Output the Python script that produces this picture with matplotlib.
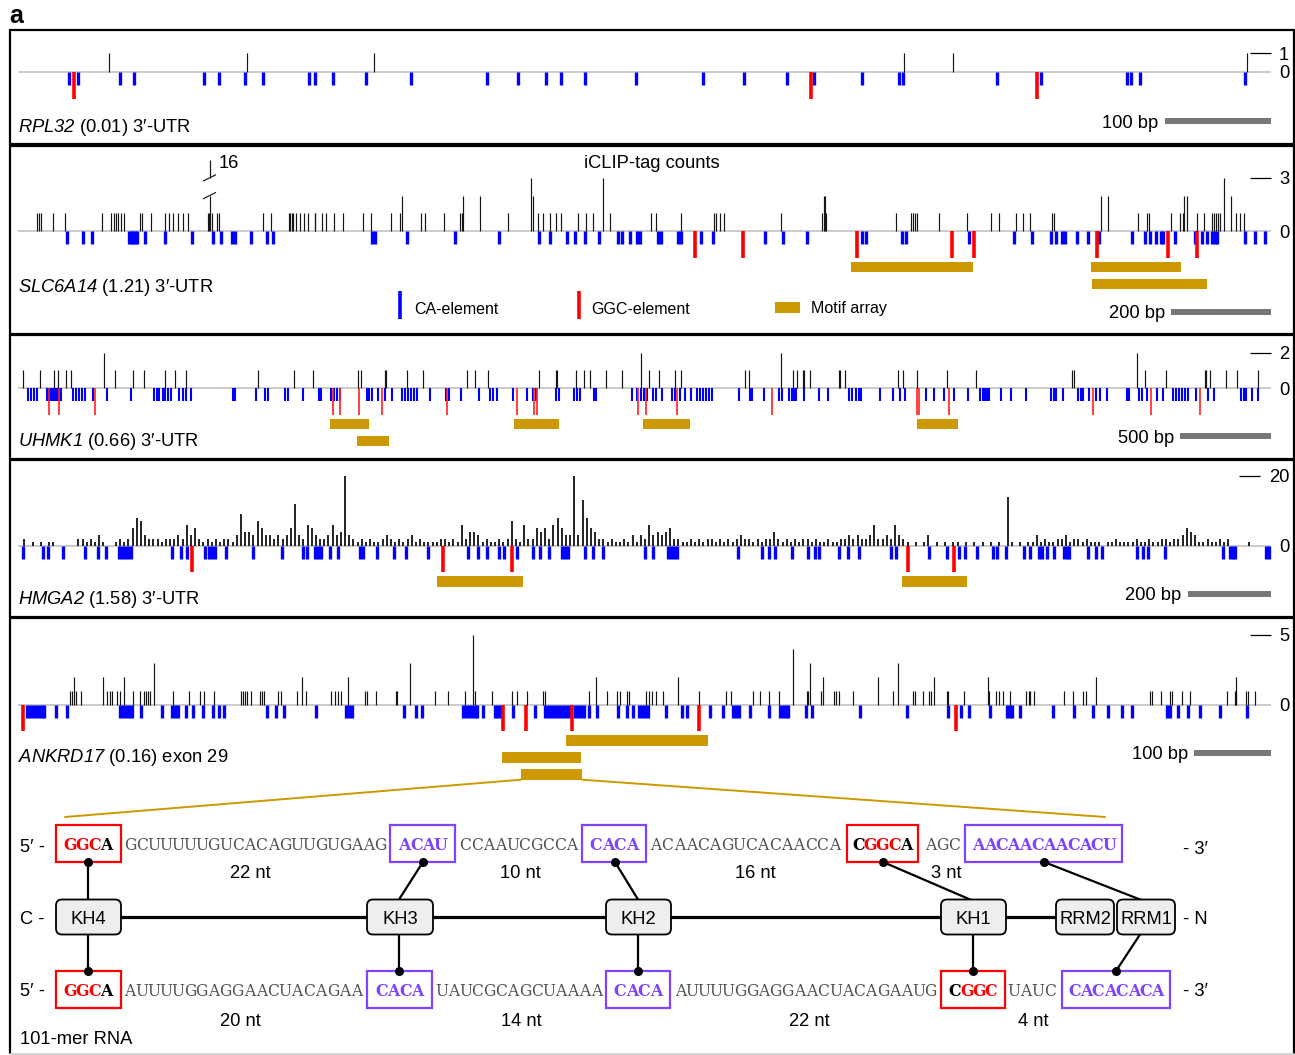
import numpy as np
import matplotlib
matplotlib.use('Agg')
import matplotlib.pyplot as plt
from matplotlib.patches import Rectangle, FancyBboxPatch, ConnectionPatch

plt.rcParams['font.family'] = ['Liberation Sans', 'DejaVu Sans']
plt.rcParams['mathtext.fontset'] = 'custom'
plt.rcParams['mathtext.rm'] = 'Liberation Sans:italic'
plt.rcParams['mathtext.it'] = 'Liberation Sans:italic'

# ---------------------------------------------------------------- data
# RPL32 3'-UTR (positions in nt)
rpl32_t1 = [86, 215, 335, 833, 879, 1155]
rpl32_ca = [48, 56, 96, 109, 175, 189, 213, 230, 274, 279, 296, 327, 369, 441, 470,
            496, 510, 533, 581, 644, 682, 723, 748, 793, 828, 832, 920, 962, 1042,
            1046, 1055, 1153]
rpl32_ggc = [53, 745, 958]
rpl32_motifs = []

# SLC6A14 3'-UTR
slc_t1 = [37, 41, 46, 70, 94, 168, 186, 191, 196, 200, 205, 211, 244, 247, 265, 293, 302,
          310, 319, 329, 340, 379, 381, 387, 398, 401, 490, 505, 542, 544, 547, 550, 555,
          563, 572, 579, 593, 594, 607, 616, 631, 650, 689, 706, 746, 763, 806, 813, 851,
          884, 887, 979, 1040, 1050, 1063, 1075, 1086, 1119, 1135, 1150, 1183, 1265, 1276,
          1326, 1391, 1395, 1403, 1412, 1525, 1608, 1616, 1755, 1785, 1789, 1793, 1797,
          1841, 1897, 1945, 1961, 1996, 2010, 2023, 2068, 2072, 2240, 2257, 2261, 2305,
          2324, 2329, 2357, 2371, 2388, 2391, 2395, 2399, 2403, 2436, 2444, 2452]
slc_t2 = [767, 889, 923, 1029, 1611, 1614, 2166, 2180, 2332, 2338, 2426]
slc_t3 = [1025, 1169, 2412]
slc_break_pos = 383
slc_break_count = 16
slc_ca = [97, 129, 147, 222, 226, 230, 234, 238, 254, 294, 348, 389, 405, 428, 434, 466,
          497, 510, 708, 714, 778, 873, 961, 1042, 1063, 1097, 1114, 1133, 1161, 1199,
          1208, 1223, 1238, 1244, 1279, 1286, 1320, 1326, 1366, 1389, 1493, 1530, 1577,
          1688, 1696, 1768, 1776, 1902, 1991, 2027, 2065, 2075, 2088, 2094, 2118, 2140,
          2161, 2227, 2253, 2263, 2276, 2285, 2289, 2314, 2353, 2368, 2378, 2388, 2394,
          2398, 2454, 2474, 2494]
slc_ggc = [1354, 1449, 1677, 1868, 1912, 2158, 2300, 2357]
slc_motifs = [(1666, 1910, 0), (2146, 2326, 0), (2148, 2378, 1)]

# UHMK1 3'-UTR
uhmk_t1 = [26, 122, 197, 220, 266, 293, 535, 635, 695, 806, 866, 925, 1319, 1520, 1622,
           1869, 1885, 2021, 2026, 2140, 2225, 2468, 2515, 2587, 2868, 2958, 2963, 3068,
           3114, 3148, 3232, 3324, 3469, 3524, 3613, 3647, 3998, 4018, 4263, 4283, 4316,
           4322, 4356, 4515, 4520, 4547, 4842, 4867, 4942, 5108, 5271, 5797, 5808, 6200,
           6312, 6529, 6534, 6554, 6645, 6705, 6821]
uhmk_t2 = [471, 3424, 4196, 6153]
uhmk_ca = [56, 72, 88, 102, 160, 171, 182, 193, 204, 215, 226, 237, 300, 318, 334, 350,
           366, 414, 492, 619, 749, 763, 774, 798, 809, 825, 843, 888, 906, 925, 954, 1183,
           1192, 1308, 1359, 1375, 1470, 1483, 1568, 1654, 1666, 1722, 1738, 1755, 1771,
           1917, 1933, 1949, 1981, 2017, 2058, 2112, 2129, 2145, 2162, 2178, 2195, 2268,
           2354, 2371, 2439, 2535, 2596, 2612, 2637, 2724, 2802, 2833, 2849, 2957, 2977,
           3057, 3073, 3093, 3168, 3179, 3379, 3406, 3427, 3443, 3460, 3490, 3510, 3544,
           3597, 3614, 3640, 3670, 3702, 3733, 3752, 3768, 3784, 3801, 3817, 3968, 4026,
           4037, 4103, 4185, 4201, 4241, 4257, 4268, 4279, 4322, 4404, 4454, 4571, 4589,
           4609, 4626, 4637, 4741, 4812, 4853, 4879, 4992, 5040, 5092, 5150, 5227, 5289,
           5305, 5316, 5327, 5341, 5405, 5464, 5546, 5682, 5698, 5709, 5748, 5830, 5847,
           5858, 5893, 5927, 5950, 5989, 6098, 6112, 6166, 6182, 6211, 6265, 6299, 6353,
           6369, 6386, 6402, 6419, 6435, 6477, 6545, 6577, 6727, 6743, 6754, 6789, 6821]
uhmk_ggc = [168, 225, 426, 1732, 1771, 1876, 2001, 2360, 2747, 2838, 2856, 3408, 3454,
            3626, 4146, 4942, 4953, 5120, 5915, 6233, 6499]
uhmk_motifs = [(1714, 1930, 0), (1867, 2038, 1), (2728, 2973, 0), (3438, 3696, 0),
               (4942, 5170, 0)]

# HMGA2 3'-UTR : iCLIP tags per 10-nt bin
hmga_bin = 10
hmga_counts = [
    0, 2, 0, 1, 0, 1, 0, 1, 1, 0,   0, 0, 0, 0, 2, 2, 1, 2, 1, 3,
    1, 0, 0, 1, 2, 1, 2, 5, 8, 7,   3, 2, 2, 2, 1, 2, 2, 2, 3, 2,
    6, 3, 5, 2, 1, 2, 1, 2, 1, 2,   2, 1, 3, 9, 4, 4, 3, 7, 5, 3,
    3, 2, 3, 2, 3, 5, 12, 3, 2, 6,  5, 3, 2, 2, 3, 6, 3, 4, 20, 3,
    2, 1, 2, 1, 2, 1, 1, 2, 3, 2,   1, 2, 1, 2, 3, 1, 2, 1, 1, 1,
    1, 2, 2, 1, 2, 1, 6, 2, 4, 4,   3, 1, 2, 1, 1, 2, 1, 2, 7, 2,
    1, 6, 2, 2, 5, 4, 5, 2, 6, 8,   5, 3, 3, 20, 3, 13, 8, 5, 4, 2,
    2, 1, 2, 1, 1, 2, 1, 3, 1, 3,   2, 6, 3, 4, 3, 4, 5, 2, 2, 1,
    1, 2, 1, 2, 1, 2, 2, 1, 2, 1,   2, 1, 2, 3, 2, 2, 1, 2, 1, 2,
    2, 4, 2, 1, 2, 1, 2, 1, 2, 2,   1, 2, 1, 1, 2, 1, 1, 2, 2, 3,
    2, 3, 2, 2, 3, 6, 2, 2, 3, 2,   6, 3, 2, 1, 0, 1, 0, 1, 3, 0,
    1, 0, 1, 0, 1, 1, 0, 1, 0, 1,   0, 1, 0, 1, 0, 1, 0, 14, 1, 0,
    1, 0, 1, 1, 3, 1, 2, 1, 1, 2,   2, 3, 1, 2, 2, 1, 2, 1, 1, 1,
    0, 1, 1, 2, 1, 1, 1, 1, 2, 1,   1, 2, 1, 1, 2, 2, 1, 2, 2, 3,
    5, 4, 3, 1, 1, 2, 1, 1, 2, 1,   2, 0, 0, 0, 0, 1, 0, 0, 0, 0]
hmga_ca = [12, 61, 71, 109, 161, 191, 211, 242, 250, 257, 264, 271, 370, 390, 405, 449,
           458, 466, 473, 499, 564, 633, 683, 693, 713, 720, 727, 748, 768, 821, 828, 862,
           902, 932, 984, 1079, 1104, 1126, 1154, 1166, 1198, 1237, 1253, 1275, 1306, 1313,
           1320, 1360, 1380, 1403, 1504, 1525, 1560, 1567, 1574, 1582, 1729, 1786, 1803,
           1816, 1858, 1895, 1913, 1923, 1970, 1992, 2019, 2094, 2107, 2187, 2229, 2259,
           2273, 2301, 2339, 2349, 2372, 2415, 2428, 2450, 2458, 2470, 2487, 2510, 2518,
           2522, 2568, 2587, 2601, 2686, 2699, 2712, 2752, 2891, 2909, 2916, 2921, 2995, 3002]
hmga_ggc = [418, 1019, 1186, 2135, 2247]
hmga_motifs = [(1006, 1212, 0), (2122, 2278, 0)]

# ANKRD17 exon 29
ank_t1 = [68, 70, 75, 82, 116, 119, 122, 129, 132, 149, 158, 164, 167, 169, 171, 201, 222,
          236, 242, 255, 290, 292, 295, 298, 303, 315, 317, 320, 338, 342, 363, 374, 407,
          412, 416, 420, 451, 454, 465, 492, 493, 542, 559, 581, 594, 616, 642, 649, 662,
          683, 685, 742, 766, 779, 783, 792, 794, 816, 820, 824, 829, 839, 885, 920, 927,
          955, 965, 976, 989, 1026, 1027, 1044, 1061, 1064, 1067, 1085, 1137, 1163, 1166,
          1177, 1184, 1187, 1208, 1209, 1230, 1262, 1271, 1275, 1280, 1289, 1310, 1314,
          1316, 1321, 1360, 1371, 1385, 1388, 1472, 1474, 1486, 1498, 1500, 1513, 1523,
          1572, 1582, 1583, 1597, 1599, 1608]
ank_t2 = [73, 110, 138, 369, 429, 752, 858, 1046, 1118, 1191, 1261, 1402, 1584]
ank_t3 = [177, 510, 1029, 1144]
ank_t4 = [1008]
ank_t5 = [592]
ank_ca = [12, 16, 20, 23, 27, 31, 34, 50, 64, 133, 137, 140, 144, 148, 160, 187, 200, 204,
          208, 219, 227, 241, 253, 261, 268, 324, 336, 346, 387, 426, 430, 434, 502, 518,
          525, 579, 582, 586, 590, 594, 597, 605, 620, 623, 626, 644, 672, 685, 689, 693,
          697, 701, 705, 708, 712, 716, 724, 728, 732, 736, 742, 753, 780, 792, 799, 807,
          811, 815, 819, 843, 863, 870, 899, 917, 930, 933, 937, 951, 976, 991, 995, 998,
          1001, 1025, 1032, 1094, 1156, 1209, 1226, 1236, 1264, 1286, 1290, 1292, 1303,
          1346, 1373, 1398, 1417, 1435, 1448, 1494, 1498, 1508, 1521, 1536, 1562, 1598]
ank_ggc = [6, 631, 660, 720, 885, 1220]
ank_motifs = [(712, 897, 0), (629, 732, 1), (654, 733, 2)]

gene_names = ['RPL32', 'SLC6A14', 'UHMK1', 'HMGA2', 'ANKRD17']
gene_scores = ['0.01', '1.21', '0.66', '1.58', '0.16']
gene_regions = ["3\u2032-UTR", "3\u2032-UTR", "3\u2032-UTR", "3\u2032-UTR", "exon 29"]
scale_max = [1, 3, 2, 20, 5]
scale_bar_bp = [100, 200, 500, 200, 100]

# 101-mer RNA schematic
row1_parts = [("GGCA", "ggc"), ("GCUUUUUGUCACAGUUGUGAAG", None), ("ACAU", "ca"),
              ("CCAAUCGCCA", None), ("CACA", "ca"), ("ACAACAGUCACAACCA", None),
              ("CGGCA", "ggc"), ("AGC", None), ("AACAACAACACU", "ca")]
row2_parts = [("GGCA", "ggc"), ("AUUUUGGAGGAACUACAGAA", None), ("CACA", "ca"),
              ("UAUCGCAGCUAAAA", None), ("CACA", "ca"), ("AUUUUGGAGGAACUACAGAAUG", None),
              ("CGGC", "ggc"), ("UAUC", None), ("CACACACA", "ca")]
row1_gaps = ["22 nt", "10 nt", "16 nt", "3 nt"]
row2_gaps = ["20 nt", "14 nt", "22 nt", "4 nt"]
domains = ["KH4", "KH3", "KH2", "KH1", "RRM2", "RRM1"]

# ---------------------------------------------------------------- layout / style
W, H = 1295, 1055
BLUE = '#0000ff'
RED = '#ff0000'
GOLD = '#cc9900'
PURPLE = '#7f44ff'
DY = 2.0          # visual centring correction for sans text (px)
fig = plt.figure(figsize=(W / 100, H / 100), dpi=100)
bg = fig.add_axes([0, 0, 1, 1])
bg.set_xlim(0, W)
bg.set_ylim(H, 0)
bg.axis('off')


def btext(x, y, s, **kw):
    kw.setdefault('fontsize', FS)
    kw.setdefault('va', 'center')
    return bg.text(x, y + DY, s, **kw)


FS = 13.2
# panel geometry: top, bottom, baseline y (px), px per tag, nt per px, label y, bar y
panels = [
    dict(top=30, bottom=144, base=72, ppc=19.0, f=0.94, lab=125, bar=121),
    dict(top=145.5, bottom=333.5, base=231, ppc=17.7, f=2.0, lab=286, bar=312),
    dict(top=335, bottom=458.5, base=388.3, ppc=17.8, f=5.5, lab=440, bar=436.5),
    dict(top=460, bottom=616.5, base=545.7, ppc=3.5, f=2.4, lab=598, bar=594),
    dict(top=618, bottom=790, base=704.7, ppc=14.0, f=1.3, lab=756, bar=752.5),
]

# panel frames
frames = [(30, 144), (145.5, 333.5), (335, 458.5), (460, 616.5)]
for t, b in frames:
    bg.add_patch(Rectangle((10, t), 1284, b - t, fill=False, ec='black', lw=1.6))
bg.plot([10, 10, 1294, 1294], [1053, 618, 618, 1053], color='black', lw=1.6)
bg.plot([10, 1294], [1053.5, 1053.5], color='#cccccc', lw=1.2)
btext(9, 14, 'a', fontsize=18, fontweight='bold', ha='left')


def make_ax(p):
    ax = fig.add_axes([10 / W, 1 - p['bottom'] / H, 1284 / W, (p['bottom'] - p['top']) / H])
    f, ppc, base = p['f'], p['ppc'], p['base']
    ax.set_xlim((10 - 18) * f, (1294 - 18) * f)
    ax.set_ylim((base - p['bottom']) / ppc, (base - p['top']) / ppc)
    ax.axis('off')
    return ax


def draw_track(ax, p, tags, ca, ggc, motifs, top, bar_bp, ca_lw=2.4, ggc_lw=2.6,
               ggc_color=RED, tick=(1250, 1271), tag_lw=0.85):
    f, ppc = p['f'], p['ppc']
    X = lambda px: (px - 18) * f
    P = lambda d: d / ppc
    L = X(1271)
    ax.hlines(0, 0, L, color='#bdbdbd', lw=1.1, zorder=1)
    ax.vlines(ca, -P(13), 0, color=BLUE, lw=ca_lw, zorder=2)
    ax.vlines(ggc, -P(26.5), 0, color=ggc_color, lw=ggc_lw, zorder=2.5)
    for cnt, pos in tags:
        if len(pos):
            ax.vlines(pos, 0, cnt, color='#151515', lw=tag_lw, zorder=3)
    for s, e, row in motifs:
        t = 30.5 + 17 * row
        ax.add_patch(Rectangle((s, -P(t + 10.5)), e - s, P(10.5), color=GOLD, lw=0))
    ax.hlines(top, X(tick[0]), X(tick[1]), color='black', lw=0.9)
    ax.text(X(1289), top - P(DY), str(top), ha='right', va='center', fontsize=FS)
    ax.text(X(1289), -P(DY), '0', ha='right', va='center', fontsize=FS)
    yb = (p['base'] - p['bar']) / ppc
    ax.hlines(yb, L - bar_bp, L, color='#777777', lw=4.3)
    ax.text(L - bar_bp - 6 * f, yb - P(DY), f'{bar_bp} bp', ha='right', va='center',
            fontsize=FS)


axes = [make_ax(p) for p in panels]

draw_track(axes[0], panels[0], [(1, rpl32_t1)], rpl32_ca, rpl32_ggc, rpl32_motifs,
           scale_max[0], scale_bar_bp[0])
draw_track(axes[1], panels[1], [(1, slc_t1), (2, slc_t2), (3, slc_t3)], slc_ca, slc_ggc,
           slc_motifs, scale_max[1], scale_bar_bp[1])
draw_track(axes[2], panels[2], [(1, uhmk_t1), (2, uhmk_t2)], uhmk_ca, uhmk_ggc,
           uhmk_motifs, scale_max[2], scale_bar_bp[2], ca_lw=1.5, ggc_lw=1.2,
           ggc_color='#ff2020')
hmga_pos = np.arange(len(hmga_counts)) * hmga_bin + hmga_bin / 2
ax4 = axes[3]
draw_track(ax4, panels[3], [], hmga_ca, hmga_ggc, hmga_motifs, scale_max[3],
           scale_bar_bp[3], tick=(1239, 1260))
hc = np.array(hmga_counts)
ax4.vlines(hmga_pos[hc > 0], 0, hc[hc > 0], color='#111111', lw=1.3, zorder=3)
draw_track(axes[4], panels[4], [(1, ank_t1), (2, ank_t2), (3, ank_t3), (4, ank_t4),
                                (5, ank_t5)], ank_ca, ank_ggc, ank_motifs,
           scale_max[4], scale_bar_bp[4])

# broken 16-tag bar in SLC6A14
ax2 = axes[1]
f2, ppc2 = panels[1]['f'], panels[1]['ppc']
ax2.vlines(slc_break_pos, 0, 2.0, color='#151515', lw=0.85, zorder=3)
ax2.vlines(slc_break_pos, 3.0, 4.0, color='#151515', lw=0.85, zorder=3)
for yy in (2.0, 3.0):
    ax2.plot([slc_break_pos - 6 * f2, slc_break_pos + 6 * f2],
             [yy - 3 / ppc2, yy + 3 / ppc2], color='#151515', lw=0.85)
ax2.text(slc_break_pos + 9 * f2, 4.0 - 3.5 / ppc2, str(slc_break_count), fontsize=FS,
         ha='left', va='center')

# gene labels
for p, g, sc, rg in zip(panels, gene_names, gene_scores, gene_regions):
    btext(18, p['lab'], f'${g}$ ({sc}) {rg}', ha='left')

# legend + axis title in SLC6A14 panel
btext(652, 162, 'iCLIP-tag counts', ha='center')
bg.plot([400, 400], [291, 319], color=BLUE, lw=2.6, solid_capstyle='butt')
btext(414, 307, 'CA-element', fontsize=11.5, ha='left')
bg.plot([579, 579], [291, 319], color=RED, lw=2.6, solid_capstyle='butt')
btext(591, 307, 'GGC-element', fontsize=11.5, ha='left')
bg.add_patch(Rectangle((775, 302), 25, 10.5, color=GOLD, lw=0))
btext(811, 307, 'Motif array', fontsize=11.5, ha='left')

# zoom lines from the motif array to the schematic
ax5 = axes[4]
yb5 = -(30.5 + 17 * 2 + 10.5) / panels[4]['ppc']
for xm, xt in ((ank_motifs[2][0], 65), (ank_motifs[2][1], 1105)):
    con = ConnectionPatch(xyA=(xm, yb5), coordsA=ax5.transData, xyB=(xt, 817),
                          coordsB=bg.transData, color=GOLD, lw=1.4)
    fig.add_artist(con)

# ---------------------------------------------------------------- schematic
SERIF = 'DejaVu Serif'
SFS = 11.2
BFS = 11.4
CW = 11.93
row1_x = [(56, 121), (124, 387), (390, 455), (459, 578), (582, 646), (650, 840),
          (847, 918), (925, 960), (965, 1122)]
row2_x = [(56, 121), (124, 363), (367, 432), (436, 602), (606, 670), (674, 937),
          (941, 1005), (1009, 1055), (1062, 1170)]


def draw_row(parts, xs, yc):
    for (txt, kind), (x0, x1) in zip(parts, xs):
        xc = (x0 + x1) / 2
        n = len(txt)
        if kind is None:
            for i, ch in enumerate(txt):
                bg.text(xc + (i - (n - 1) / 2) * CW, yc + 6.0, ch, family=SERIF,
                        fontsize=SFS, color='#505050', ha='center', va='baseline')
            continue
        edge = RED if kind == 'ggc' else PURPLE
        bg.add_patch(Rectangle((x0, yc - 18.5), x1 - x0, 37, fill=False, ec=edge, lw=1.6))
        for i, ch in enumerate(txt):
            if kind == 'ca':
                col = PURPLE
            else:
                col = RED if ch == 'G' or (ch == 'C' and i > 0 and txt[i - 1] == 'G') else 'black'
            bg.text(xc + (i - (n - 1) / 2) * CW, yc + 6.0, ch, family=SERIF, fontsize=BFS,
                    fontweight='bold', color=col, ha='center', va='baseline')


draw_row(row1_parts, row1_x, 843.5)
draw_row(row2_parts, row2_x, 989.5)

for txt, xc in zip(row1_gaps, [250, 520, 755, 946]):
    btext(xc, 872, txt, ha='center')
for txt, xc in zip(row2_gaps, [240, 521, 809, 1033]):
    btext(xc, 1019, txt, ha='center')

btext(20, 845, "5\u2032 -", ha='left')
btext(20, 917, "C -", ha='left')
btext(20, 990, "5\u2032 -", ha='left')
btext(20, 1037, "101-mer RNA", ha='left')
btext(1183, 848, "- 3\u2032", ha='left')
btext(1183, 917, "- N", ha='left')
btext(1183, 990, "- 3\u2032", ha='left')

# domains
dom_x = [(56, 121), (367, 433), (606, 671), (941, 1006), (1056, 1114), (1117, 1175)]
bg.plot([121, 1056], [917, 917], color='black', lw=2.3, zorder=1)
for name, (x0, x1) in zip(domains, dom_x):
    bg.add_patch(FancyBboxPatch((x0, 899.5), x1 - x0, 35,
                                boxstyle='round,pad=0,rounding_size=6',
                                fc='#eeeeee', ec='black', lw=1.3, zorder=3))
    btext((x0 + x1) / 2, 917, name, ha='center', zorder=4)

# contacts: (domain x, domain y) -> (dot x, dot y)
links = [((88, 899.5), (88, 862)), ((399, 899.5), (423, 862)), ((638, 899.5), (615, 862)),
         ((970, 899.5), (883, 862)), ((1140, 899.5), (1044, 862)),
         ((88, 934.5), (88, 971)), ((399, 934.5), (399, 971)), ((638, 934.5), (638, 971)),
         ((973, 934.5), (973, 971)), ((1140, 934.5), (1116, 971))]
for (xa, ya), (xb, yb) in links:
    bg.plot([xa, xb], [ya, yb], color='black', lw=1.6, zorder=2)
    bg.plot([xb], [yb], 'o', color='black', ms=5.5, zorder=5)

fig.savefig('out.png', dpi=100)
